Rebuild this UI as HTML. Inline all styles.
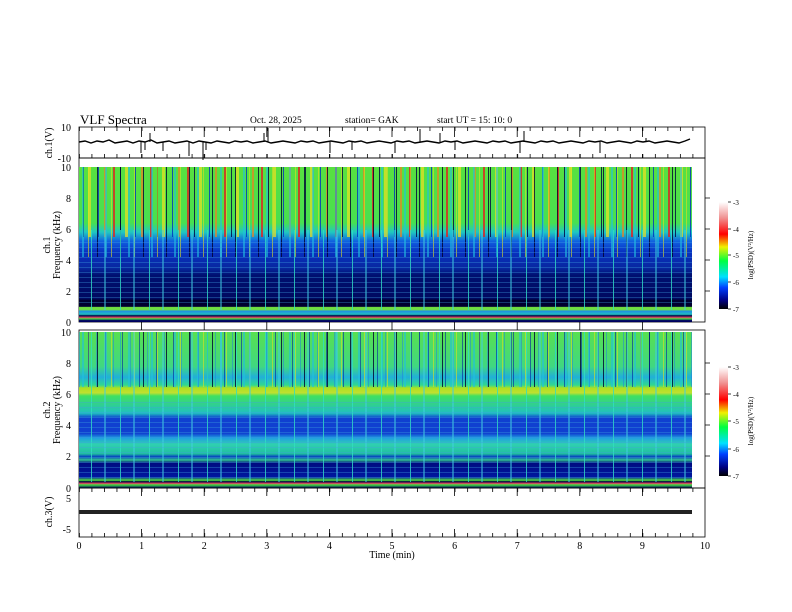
<!DOCTYPE html>
<html><head><meta charset="utf-8"><style>
html,body{margin:0;padding:0;background:#fff}
svg{display:block}
text{font-family:"Liberation Serif",serif;fill:#000}
</style></head><body>
<svg width="792" height="612" viewBox="0 0 792 612" xmlns="http://www.w3.org/2000/svg">
<defs>
<linearGradient id="g1" x1="0" y1="0" x2="0" y2="1">
<stop offset="0" stop-color="#58e040"/><stop offset="0.36" stop-color="#48e050"/>
<stop offset="0.42" stop-color="#20c8c0"/><stop offset="0.48" stop-color="#1060e0"/>
<stop offset="0.55" stop-color="#0830c0"/><stop offset="0.65" stop-color="#0828a0"/>
<stop offset="0.7" stop-color="#001070"/><stop offset="0.85" stop-color="#000a60"/>
<stop offset="0.86" stop-color="#000030"/><stop offset="0.9" stop-color="#000030"/>
<stop offset="0.905" stop-color="#70e040"/><stop offset="0.92" stop-color="#70e040"/>
<stop offset="0.93" stop-color="#2090e0"/><stop offset="0.95" stop-color="#20c0c0"/>
<stop offset="0.96" stop-color="#000040"/><stop offset="0.97" stop-color="#e04060"/>
<stop offset="0.98" stop-color="#40e040"/><stop offset="0.99" stop-color="#000060"/>
<stop offset="1" stop-color="#000060"/>
</linearGradient>
<linearGradient id="g2" x1="0" y1="0" x2="0" y2="1">
<stop offset="0" stop-color="#58e050"/><stop offset="0.22" stop-color="#40d880"/>
<stop offset="0.29" stop-color="#20b0d8"/><stop offset="0.34" stop-color="#30d890"/>
<stop offset="0.36" stop-color="#b0e020"/><stop offset="0.39" stop-color="#c0e030"/>
<stop offset="0.41" stop-color="#40e060"/><stop offset="0.52" stop-color="#20c0c0"/>
<stop offset="0.55" stop-color="#1040d0"/><stop offset="0.65" stop-color="#1040d0"/>
<stop offset="0.68" stop-color="#20a0e0"/><stop offset="0.72" stop-color="#30d0b0"/>
<stop offset="0.78" stop-color="#20c0a0"/><stop offset="0.8" stop-color="#0840c0"/>
<stop offset="0.82" stop-color="#30c090"/><stop offset="0.84" stop-color="#000a80"/>
<stop offset="0.93" stop-color="#0018a0"/><stop offset="0.95" stop-color="#50e040"/>
<stop offset="0.96" stop-color="#000040"/><stop offset="0.97" stop-color="#e04060"/>
<stop offset="0.98" stop-color="#40e040"/><stop offset="1" stop-color="#000060"/>
</linearGradient>
<linearGradient id="cb" x1="0" y1="1" x2="0" y2="0">
<stop offset="0" stop-color="#000000"/><stop offset="0.08" stop-color="#000080"/>
<stop offset="0.2" stop-color="#0040ff"/><stop offset="0.3" stop-color="#00e0ff"/>
<stop offset="0.45" stop-color="#00ff40"/><stop offset="0.58" stop-color="#f0f000"/>
<stop offset="0.7" stop-color="#ff0000"/><stop offset="0.85" stop-color="#f09090"/>
<stop offset="1" stop-color="#ffffff"/>
</linearGradient>
<pattern id="sA" width="37" height="10" patternUnits="userSpaceOnUse">
<rect x="2" width="2" height="10" fill="#e02020" opacity=".8"/>
<rect x="9" width="1" height="10" fill="#000040" opacity=".8"/>
<rect x="14" width="3" height="10" fill="#f0e020" opacity=".7"/>
<rect x="24" width="1" height="10" fill="#0030c0" opacity=".8"/>
<rect x="30" width="2" height="10" fill="#f08020" opacity=".7"/>
</pattern>
<pattern id="sB" width="23" height="10" patternUnits="userSpaceOnUse">
<rect x="5" width="1" height="10" fill="#000030" opacity=".8"/>
<rect x="13" width="2" height="10" fill="#20c0e0" opacity=".6"/>
<rect x="19" width="1" height="10" fill="#e0e020" opacity=".6"/>
</pattern>
<pattern id="sC" width="29" height="10" patternUnits="userSpaceOnUse">
<rect x="4" width="1" height="10" fill="#30e0c0" opacity=".8"/>
<rect x="17" width="2" height="10" fill="#40d0e0" opacity=".5"/>
</pattern>
<pattern id="sD" width="17" height="10" patternUnits="userSpaceOnUse">
<rect x="3" width="1" height="10" fill="#0020a0" opacity=".6"/>
<rect x="11" width="1" height="10" fill="#2080e0" opacity=".5"/>
</pattern>
<pattern id="hL" width="10" height="5" patternUnits="userSpaceOnUse">
<rect y="2" width="10" height="1" fill="#40a0e0" opacity=".35"/>
</pattern>
<pattern id="mt" x="79" width="12.52" height="40" patternUnits="userSpaceOnUse">
<rect x="0" width="0.8" height="40" fill="#000"/>
</pattern>
</defs>

<text x="80" y="124" font-size="13">VLF Spectra</text>
<text x="250" y="123" font-size="9.5">Oct. 28, 2025</text>
<text x="345" y="123" font-size="9.5">station= GAK</text>
<text x="437" y="123" font-size="9.5">start UT =  15: 10: 0</text>

<!-- ch1 panel -->
<rect x="79" y="127" width="626" height="31" fill="none" stroke="#000" stroke-width="0.8"/>
<rect x="79" y="127" width="626" height="4" fill="url(#mt)"/>
<rect x="79" y="154" width="626" height="4" fill="url(#mt)"/>
<text x="71" y="131" font-size="10" text-anchor="end">10</text>
<text x="71" y="162" font-size="10" text-anchor="end">-10</text>
<text transform="translate(52,143) rotate(-90)" font-size="10" text-anchor="middle">ch.1(V)</text>
<polyline fill="none" stroke="#000" stroke-width="1.4" points="79,142 85,141 91,143 97,141 103,142 109,140 115,143 121,142 127,141 133,143 139,141 145,142 151,140 157,143 163,142 169,141 175,143 181,142 187,141 193,143 199,141 205,142 211,143 217,141 223,142 229,143 235,141 241,142 247,141 253,143 259,142 265,141 271,143 277,142 283,141 289,142 295,143 301,141 307,142 313,141 319,143 325,142 331,141 337,142 343,143 349,141 355,142 361,141 367,143 373,142 379,141 385,142 391,143 397,141 403,142 409,141 415,143 421,142 427,141 433,142 439,143 445,141 451,142 457,141 463,143 469,142 475,141 481,142 487,143 493,141 499,142 505,141 511,143 517,142 523,141 529,142 535,143 541,141 547,142 553,141 559,143 565,142 571,141 577,142 583,143 589,141 595,142 601,141 607,143 613,142 619,141 625,142 631,143 637,141 643,142 649,141 655,143 661,142 667,141 673,142 679,143 685,141 690,139"/>
<path stroke="#000" stroke-width="1" d="M141 142V153M145 142V150M150 142V133M163 142V151M189 142V156M203 142V160M206 142V150M264 142V133M268 142V128M330 142V153M352 142V150M395 142V153M420 142V129M440 142V133M455 142V150M520 142V153M524 142V131M600 142V153M646 142V138"/>

<!-- spectrogram 1 -->
<rect x="79" y="158" width="626" height="164" fill="none" stroke="#000" stroke-width="0.8"/>
<rect x="79" y="167" width="613" height="155" fill="url(#g1)"/>
<rect x="79" y="167" width="613" height="70" fill="url(#sA)"/>
<rect x="79" y="167" width="613" height="90" fill="url(#sB)"/>
<rect x="79" y="230" width="613" height="80" fill="url(#sC)"/>
<rect x="79" y="240" width="613" height="65" fill="url(#hL)"/>
<g font-size="10" text-anchor="end">
<text x="71" y="171">10</text><text x="71" y="202">8</text><text x="71" y="233">6</text><text x="71" y="264">4</text><text x="71" y="295">2</text><text x="71" y="326">0</text>
</g>
<text transform="translate(50,245) rotate(-90)" font-size="10" text-anchor="middle">ch.1</text>
<text transform="translate(60,245) rotate(-90)" font-size="10" text-anchor="middle">Frequency  (kHz)</text>

<!-- spectrogram 2 -->
<rect x="79" y="330" width="626" height="158" fill="none" stroke="#000" stroke-width="0.8"/>
<rect x="79" y="332" width="613" height="156" fill="url(#g2)"/>
<rect x="79" y="332" width="613" height="55" fill="url(#sB)"/>
<rect x="79" y="332" width="613" height="55" fill="url(#sD)"/>
<rect x="79" y="332" width="613" height="150" fill="url(#sC)"/>
<rect x="79" y="400" width="613" height="80" fill="url(#hL)"/>
<g font-size="10" text-anchor="end">
<text x="71" y="336">10</text><text x="71" y="367">8</text><text x="71" y="398">6</text><text x="71" y="429">4</text><text x="71" y="460">2</text><text x="71" y="492">0</text>
</g>
<text transform="translate(50,410) rotate(-90)" font-size="10" text-anchor="middle">ch.2</text>
<text transform="translate(60,410) rotate(-90)" font-size="10" text-anchor="middle">Frequency  (kHz)</text>

<!-- ch3 -->
<rect x="79" y="488" width="626" height="49" fill="none" stroke="#000" stroke-width="0.8"/>
<rect x="79" y="488" width="626" height="4" fill="url(#mt)"/>
<rect x="79" y="533" width="626" height="4" fill="url(#mt)"/>
<rect x="79" y="510" width="613" height="4" fill="#222"/>
<text x="71" y="502" font-size="10" text-anchor="end">5</text>
<text x="71" y="533" font-size="10" text-anchor="end">-5</text>
<text transform="translate(52,512) rotate(-90)" font-size="10" text-anchor="middle">ch.3(V)</text>

<!-- major vertical ticks -->
<path stroke="#000" stroke-width="0.8" d="M141.6 127v10M141.6 158v-4M204.2 127v10M204.2 158v-4M266.8 127v10M266.8 158v-4M329.4 127v10M329.4 158v-4M392 127v10M392 158v-4M454.6 127v10M454.6 158v-4M517.2 127v10M517.2 158v-4M579.8 127v10M579.8 158v-4M642.4 127v10M642.4 158v-4
M141.6 488v8M141.6 537v-8M204.2 488v8M204.2 537v-8M266.8 488v8M266.8 537v-8M329.4 488v8M329.4 537v-8M392 488v8M392 537v-8M454.6 488v8M454.6 537v-8M517.2 488v8M517.2 537v-8M579.8 488v8M579.8 537v-8M642.4 488v8M642.4 537v-8
M141.6 322v8M204.2 322v8M266.8 322v8M329.4 322v8M392 322v8M454.6 322v8M517.2 322v8M579.8 322v8M642.4 322v8
M705 198h5M705 229h5M705 260h5M705 291h5M705 363h5M705 394h5M705 425h5M705 456h5"/>
<g font-size="10" text-anchor="middle">
<text x="79" y="549">0</text><text x="141.6" y="549">1</text><text x="204.2" y="549">2</text><text x="266.8" y="549">3</text><text x="329.4" y="549">4</text><text x="392" y="549">5</text><text x="454.6" y="549">6</text><text x="517.2" y="549">7</text><text x="579.8" y="549">8</text><text x="642.4" y="549">9</text><text x="705" y="549">10</text>
</g>
<text x="392" y="558" font-size="10" text-anchor="middle">Time  (min)</text>

<!-- colorbars -->
<rect x="719" y="202" width="9" height="107" fill="url(#cb)"/>
<path stroke="#000" stroke-width="0.8" d="M728 202h3M728 229h3M728 255h3M728 282h3M728 309h3"/>
<g font-size="7"><text x="733" y="205">-3</text><text x="733" y="232">-4</text><text x="733" y="258">-5</text><text x="733" y="285">-6</text><text x="733" y="312">-7</text></g>
<text transform="translate(753,255) rotate(-90)" font-size="7" text-anchor="middle">log(PSD)(V²/Hz)</text>
<rect x="719" y="367" width="9" height="109" fill="url(#cb)"/>
<path stroke="#000" stroke-width="0.8" d="M728 367h3M728 394h3M728 421h3M728 449h3M728 476h3"/>
<g font-size="7"><text x="733" y="370">-3</text><text x="733" y="397">-4</text><text x="733" y="424">-5</text><text x="733" y="452">-6</text><text x="733" y="479">-7</text></g>
<text transform="translate(753,421) rotate(-90)" font-size="7" text-anchor="middle">log(PSD)(V²/Hz)</text>
</svg>
</body></html>
